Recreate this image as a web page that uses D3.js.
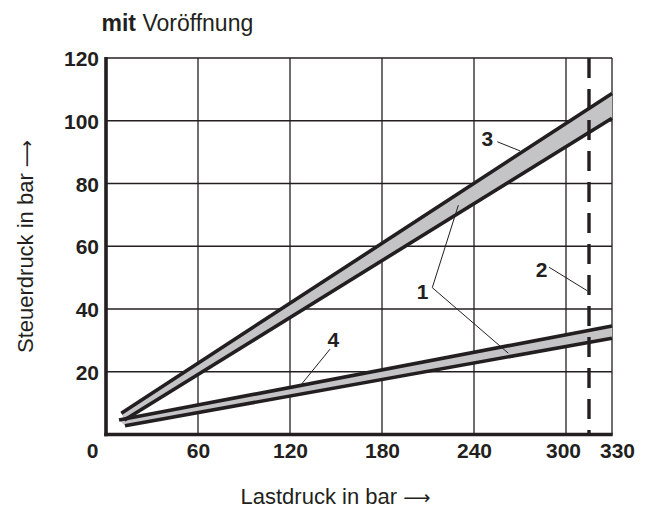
<!DOCTYPE html>
<html>
<head>
<meta charset="utf-8">
<script src="https://cdn.jsdelivr.net/npm/d3@7"></script>
<style>
  html, body { margin: 0; padding: 0; background: #fff; }
  svg { display: block; }
  text { font-family: "Liberation Sans", Arial, sans-serif; fill: #231f20; }
</style>
</head>
<body>
<script>
// Axis domains and tick values
const xTicks = [0, 60, 120, 180, 240, 300, 330];
const yTicks = [20, 40, 60, 80, 100, 120];
const xGrid = [60, 120, 180, 240, 300, 330];
const yGrid = [20, 40, 60, 80, 100, 120];

// Characteristic bands: [Lastdruck, Steuerdruck] end points of each boundary line
const upperHigh = [[10, 6.8], [330, 108.7]];
const upperLow  = [[12, 4.6], [330, 100.8]];
const lowerHigh = [[8.5, 4.6], [330, 34.6]];
const lowerLow  = [[12.4, 2.8], [330, 30.7]];

// Pressure limit (dashed vertical)
const pressureLimit = 315;

// Callout labels: text, label anchor, leader vertex, leader targets (data units)
const callouts = [
  { text: "1", at: [206.5, 43.3], from: [212.8, 46.8], to: [[229.8, 73.1], [262.4, 25.9]] },
  { text: "2", at: [284.1, 50.3], from: [289.0, 53.3], to: [[313.9, 45.8]] },
  { text: "3", at: [248.7, 92.0], from: [255.2, 93.3], to: [[270.0, 90.4]] },
  { text: "4", at: [148.2, 28.0], from: [146.1, 27.2], to: [[127.6, 16.1]] }
];

const W = 654, H = 509;
const margin = { left: 106, top: 58, right: 42, bottom: 74.5 };
const innerW = W - margin.left - margin.right;
const innerH = H - margin.top - margin.bottom;

const x = d3.scaleLinear().domain([0, 330]).range([margin.left, margin.left + innerW]);
const y = d3.scaleLinear().domain([0, 120]).range([margin.top + innerH, margin.top]);

const ink = "#231f20";

const svg = d3.select("body").append("svg")
  .attr("width", W).attr("height", H);

// Grid
const grid = svg.append("g").attr("stroke", ink).attr("stroke-width", 1.3);
grid.selectAll("line.v").data(xGrid).join("line").attr("class", "v")
  .attr("x1", d => x(d)).attr("x2", d => x(d))
  .attr("y1", y(0)).attr("y2", y(120));
grid.selectAll("line.h").data(yGrid).join("line").attr("class", "h")
  .attr("x1", x(0)).attr("x2", x(330))
  .attr("y1", d => y(d)).attr("y2", d => y(d));

// Bands (grey fill between boundary lines)
const bandPath = (hi, lo) => {
  const pts = hi.concat(lo.slice().reverse());
  return d3.line().x(d => x(d[0])).y(d => y(d[1]))(pts) + "Z";
};
svg.append("path").attr("d", bandPath(upperHigh, upperLow)).attr("fill", "#c4c4c6");
svg.append("path").attr("d", bandPath(lowerHigh, lowerLow)).attr("fill", "#c4c4c6");

const line = d3.line().x(d => x(d[0])).y(d => y(d[1]));
[upperHigh, upperLow, lowerHigh, lowerLow].forEach(s => {
  svg.append("path").attr("d", line(s))
    .attr("fill", "none").attr("stroke", ink).attr("stroke-width", 3.6);
});

// Dashed limit line
svg.append("line")
  .attr("x1", x(pressureLimit)).attr("x2", x(pressureLimit))
  .attr("y1", y(120)).attr("y2", y(0))
  .attr("stroke", ink).attr("stroke-width", 3.4)
  .attr("stroke-dasharray", "20,11");

// Axes
const xAxis = d3.axisBottom(x).tickValues(xTicks).tickSize(0).tickPadding(0);
const gx = svg.append("g").attr("transform", `translate(0,${y(0)})`).call(xAxis);
gx.select(".domain").remove();
gx.selectAll("text")
  .attr("font-size", 21).attr("font-weight", "bold")
  .attr("font-family", '"Liberation Sans", Arial, sans-serif')
  .attr("fill", ink)
  .attr("dy", null).attr("y", 23.5)
  .attr("dx", d => d === 0 ? -14 : d === 300 ? -3 : d === 330 ? 5 : 0);

const yAxis = d3.axisLeft(y).tickValues(yTicks).tickSize(0).tickPadding(0);
const gy = svg.append("g").attr("transform", `translate(${x(0)},0)`).call(yAxis);
gy.select(".domain").remove();
gy.selectAll("text")
  .attr("font-size", 21).attr("font-weight", "bold")
  .attr("font-family", '"Liberation Sans", Arial, sans-serif')
  .attr("fill", ink)
  .attr("x", -7).attr("dy", "0.36em");

// Axis lines
svg.append("line").attr("x1", x(0)).attr("x2", x(0))
  .attr("y1", y(120) - 1).attr("y2", y(0) + 1.8)
  .attr("stroke", ink).attr("stroke-width", 3.6);
svg.append("line").attr("x1", x(0) - 1.8).attr("x2", x(330) + 0.7)
  .attr("y1", y(0)).attr("y2", y(0))
  .attr("stroke", ink).attr("stroke-width", 3.6);

// Callouts
const co = svg.append("g");
callouts.forEach(c => {
  c.to.forEach(t => {
    co.append("line")
      .attr("x1", x(c.from[0])).attr("y1", y(c.from[1]))
      .attr("x2", x(t[0])).attr("y2", y(t[1]))
      .attr("stroke", ink).attr("stroke-width", 1);
  });
  co.append("text")
    .attr("x", x(c.at[0])).attr("y", y(c.at[1]))
    .attr("text-anchor", "middle")
    .attr("font-size", 21).attr("font-weight", "bold")
    .text(c.text);
});

// Titles
const title = svg.append("text").attr("x", 101.5).attr("y", 30.5).attr("font-size", 23);
title.append("tspan").attr("font-weight", "bold").text("mit");
title.append("tspan").text(" Voröffnung");

const xt = svg.append("text")
  .attr("x", 240.5).attr("y", 504)
  .attr("font-size", 22);
xt.append("tspan").text("Lastdruck in bar ");
xt.append("tspan").attr("font-family", '"DejaVu Sans", sans-serif').attr("font-size", 19).text("\u27F6");

const yt = svg.append("text")
  .attr("transform", "translate(32.5,353) rotate(-90)")
  .attr("text-anchor", "start")
  .attr("font-size", 22);
yt.append("tspan").text("Steuerdruck in bar ");
yt.append("tspan").attr("font-family", '"DejaVu Sans", sans-serif').attr("font-size", 19).text("\u27F6");
</script>
</body>
</html>
